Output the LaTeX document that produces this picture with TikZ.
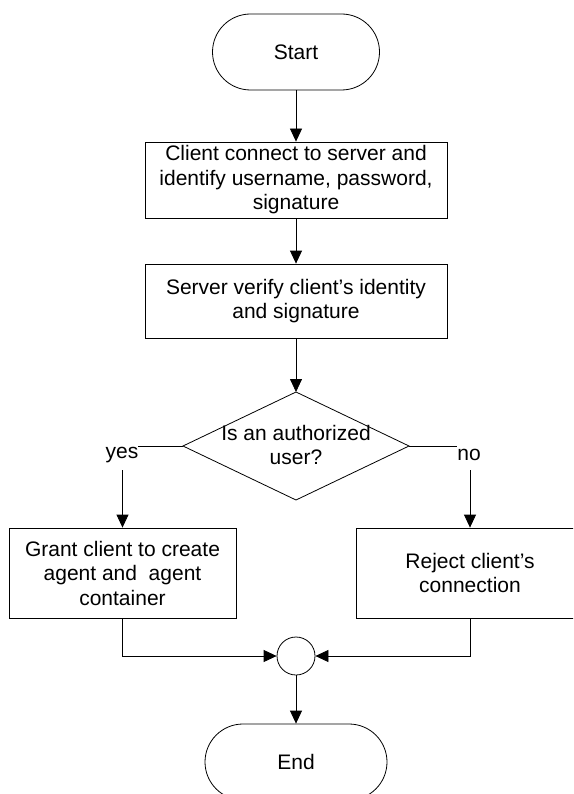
\documentclass[tikz,border=0pt]{standalone}
\usepackage{fontspec}
\setmainfont{Liberation Sans}
\usetikzlibrary{arrows.meta}
\tikzset{
  base/.style={draw=black, line width=0.8pt, font=\fontsize{21}{24.5}\selectfont, align=center, inner sep=0pt},
  term/.style={base, rectangle, rounded corners=38pt, minimum width=182pt, minimum height=76pt},
  procbox/.style={base, rectangle, minimum height=76pt},
  joint/.style={base, circle, minimum size=38pt},
  conn/.style={line width=0.8pt, -{Triangle[length=13pt,width=12pt]}},
  plain/.style={line width=0.8pt},
  lab/.style={font=\fontsize{21}{24.5}\selectfont, align=center, inner sep=0pt}
}
\begin{document}
\begin{tikzpicture}[x=1pt,y=-1pt]
\clip (0,0) rectangle (573,794);
\fill[white] (0,0) rectangle (573,794);
\node[term, minimum width=167pt] (start) at (296,52) {Start};
\node[procbox, minimum width=302pt] (b1) at (296,180) {Client connect to server and\\identify username, password,\\signature};
\node[procbox, minimum width=302pt, minimum height=74pt] (b2) at (296,301) {Server verify client’s identity\\and signature};
\coordinate (dt) at (296,392);
\coordinate (dr) at (409,446);
\coordinate (db) at (296,500);
\coordinate (dl) at (183,446);
\draw[line width=0.8pt] (dt) -- (dr) -- (db) -- (dl) -- cycle;
\node[lab] (dq) at (296,445) {Is an authorized\\user?};
\node[procbox, minimum width=227pt, minimum height=90pt] (b3) at (122.5,573) {Grant client to create\\agent and\ \ agent\\container};
\node[procbox, minimum width=227pt, minimum height=90pt] (b4) at (470,573) {Reject client’s\\connection};
\node[joint] (j) at (296,656) {};
\node[term] (end) at (296,762) {End};
\node[lab] (yes) at (122,455) {yes};
\node[lab] (no) at (469,455) {no};
\coordinate (yl) at (138,446);
\coordinate (yv) at (122.5,470);
\coordinate (nl) at (457,446);
\coordinate (nv) at (470,470);
\draw[conn] (start.south) -- (b1.north);
\draw[conn] (b1.south) -- (b2.north);
\draw[conn] (b2.south) -- (dt);
\draw[plain] (dl) -- (yl);
\draw[conn] (yv) -- (b3.north);
\draw[plain] (dr) -- (nl);
\draw[conn] (nv) -- (b4.north);
\draw[conn] (b3.south) |- (j.west);
\draw[conn] (b4.south) |- (j.east);
\draw[conn] (j.south) -- (end.north);
\end{tikzpicture}
\end{document}
